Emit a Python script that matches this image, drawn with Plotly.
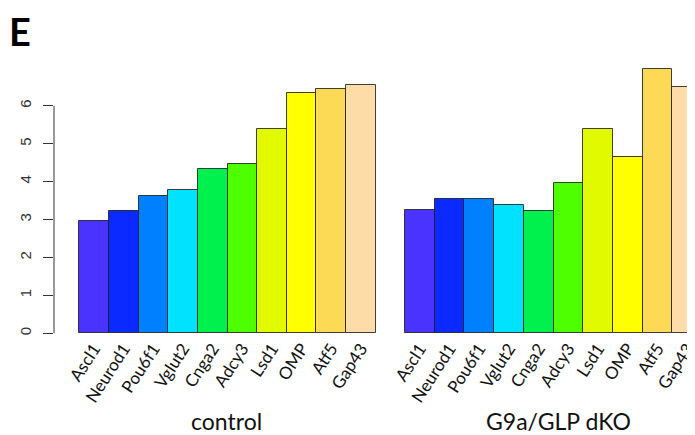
import plotly.graph_objects as go

genes = ["Ascl1", "Neurod1", "Pou6f1", "Vglut2", "Cnga2", "Adcy3", "Lsd1", "OMP", "Atf5", "Gap43"]
control = [2.96, 3.23, 3.63, 3.78, 4.34, 4.47, 5.39, 6.33, 6.44, 6.56]
dko = [3.24, 3.55, 3.53, 3.38, 3.23, 3.97, 5.40, 4.66, 6.96, 6.51]
bar_colors = ["#4B33FF", "#0A2AFF", "#0080FF", "#00E2FF", "#00F04E",
              "#4DFF00", "#E2FA00", "#FFFF00", "#FDDA55", "#FDDCA8"]
yticks = [0, 1, 2, 3, 4, 5, 6]
panel_titles = ["control", "G9a/GLP dKO"]
panel_label = "E"

# page body has an 8px margin: figure coords = window coords - OFF
OFF = 8
W, H = 695, 435


def fx(px):
    return (px - OFF) / W


def fy(py):
    return 1 - (py - OFF) / H


px_per_unit = 37.9
y_bottom_px = 334.4
y_top_px = 60
y0 = -0.03
y1 = y0 + (y_bottom_px - y_top_px) / px_per_unit

fig = go.Figure()
line_style = dict(color="rgba(30,30,30,0.85)", width=1)
fig.add_trace(go.Bar(x=genes, y=control, marker=dict(color=bar_colors, line=line_style),
                     xaxis="x", yaxis="y", showlegend=False))
fig.add_trace(go.Bar(x=genes, y=dko, marker=dict(color=bar_colors, line=line_style),
                     xaxis="x2", yaxis="y2", showlegend=False))

cat_font = dict(family="Lato, Carlito, sans-serif", size=17, color="#111")
xd1 = [fx(54), fx(390)]
xd2 = [fx(390), 1.0]
yd = [fy(y_bottom_px), fy(y_top_px)]

# right panel: plot area extends past the window edge; range from bar pitch
pitch2 = 29.7
r2_start = -0.5 - (405 - 390) / pitch2
r2_end = r2_start + (W - (390 - OFF)) / pitch2

fig.update_layout(
    width=W, height=H,
    margin=dict(l=0, r=0, t=0, b=0),
    paper_bgcolor="white", plot_bgcolor="white",
    bargap=0,
    xaxis=dict(domain=xd1, type="category", range=[-1.354, 9.982], showline=False,
               showgrid=False, zeroline=False, ticks="", tickangle=-57, tickfont=cat_font,
               anchor="y"),
    xaxis2=dict(domain=xd2, type="category", range=[r2_start, r2_end], showline=False,
                showgrid=False, zeroline=False, ticks="", tickangle=-57, tickfont=cat_font,
                anchor="y2"),
    yaxis=dict(domain=yd, range=[y0, y1], showgrid=False, zeroline=False, showline=False,
               tickvals=yticks, ticks="outside", ticklen=10, tickcolor="#333", tickwidth=1,
               tickangle=-90, ticklabelstandoff=6,
               tickfont=dict(family="Liberation Sans, Arial, sans-serif", size=15, color="#333"),
               anchor="x"),
    yaxis2=dict(domain=yd, range=[y0, y1], visible=False, anchor="x2"),
)

# R-style y axis line spanning only the tick range
fig.add_shape(type="line", xref="paper", yref="y", x0=xd1[0], x1=xd1[0],
              y0=min(yticks), y1=max(yticks), line=dict(color="#333", width=1))

title_font = dict(family="Lato, Carlito, sans-serif", size=23, color="#111")
fig.add_annotation(text=panel_titles[0], xref="paper", x=fx(226), xanchor="center",
                   yref="paper", y=fy(421), yanchor="middle", showarrow=False, font=title_font)
fig.add_annotation(text=panel_titles[1], xref="paper", x=fx(558), xanchor="center",
                   yref="paper", y=fy(421), yanchor="middle", showarrow=False, font=title_font)
fig.add_annotation(text="<b>" + panel_label + "</b>", xref="paper", x=fx(7), xanchor="left",
                   yref="paper", y=fy(6), yanchor="top", showarrow=False,
                   font=dict(family="Lato, sans-serif", size=38, color="black"))

fig.write_html("out.html")
